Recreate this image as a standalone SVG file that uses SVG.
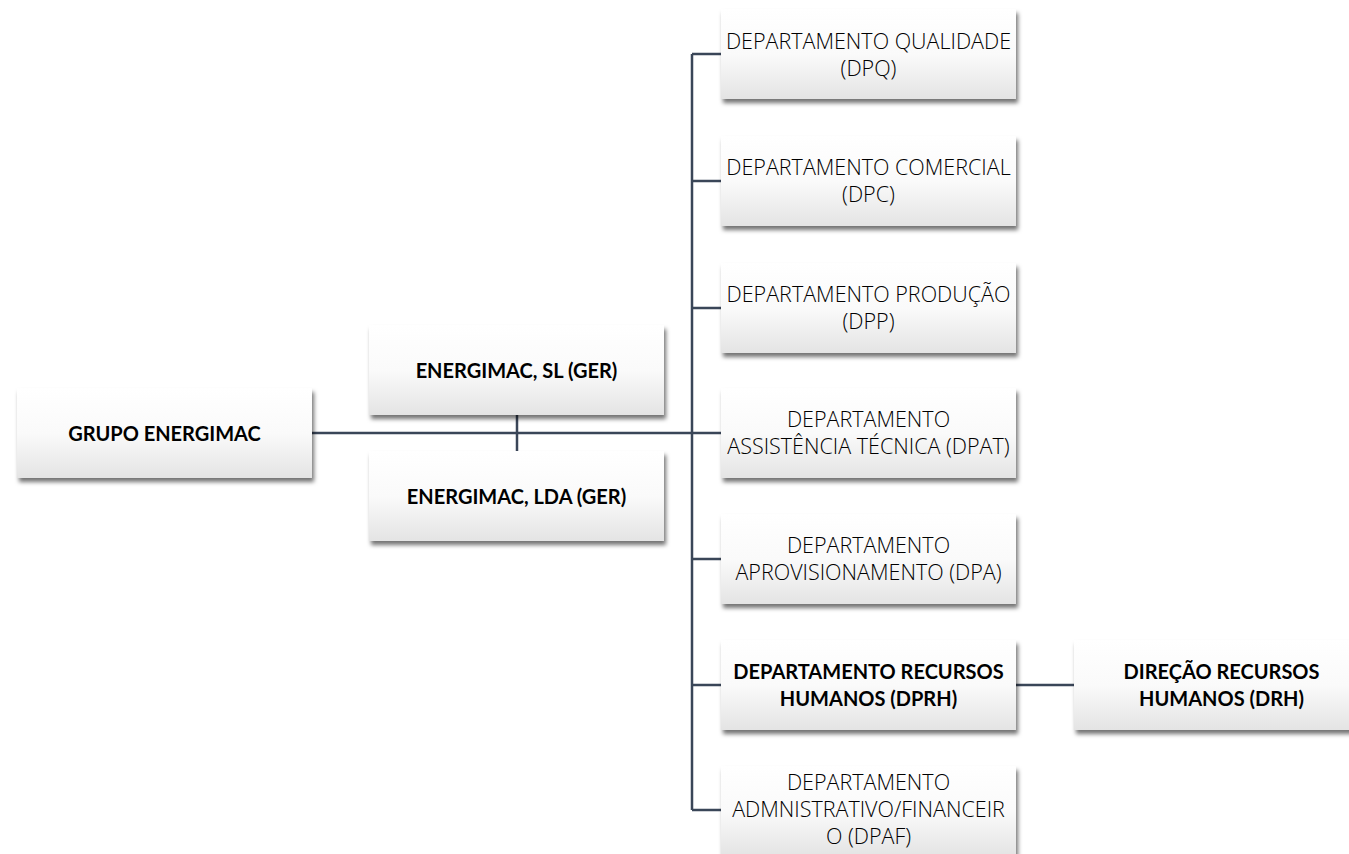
<svg xmlns="http://www.w3.org/2000/svg" width="1349" height="854" viewBox="0 0 1349 854">
<defs>
<linearGradient id="g" x1="0" y1="0" x2="0" y2="1">
<stop offset="0" stop-color="#ffffff"/>
<stop offset="0.5" stop-color="#fafafa"/>
<stop offset="1" stop-color="#e4e4e4"/>
</linearGradient>
<filter id="sh" x="-10%" y="-10%" width="125%" height="135%">
<feDropShadow dx="2" dy="4" stdDeviation="2.2" flood-color="#000" flood-opacity="0.55"/>
</filter>
</defs>
<style>
.box{fill:url(#g);filter:url(#sh)}
.t{font-family:"Open Sans","Noto Sans",sans-serif;font-weight:300;font-size:21.5px;fill:#000;text-anchor:middle}
.b{font-family:Lato,"Open Sans",sans-serif;font-weight:700;font-size:20px;fill:#000;text-anchor:middle}
.c{fill:none;stroke:#3a4658;stroke-width:2.5}
</style>
<rect width="1349" height="854" fill="#fff"/>
<g id="connectors">
<path class="c" d="M312 433 H721"/>
<path class="c" d="M517 415 V451"/>
<path class="c" d="M692 54 V810"/>
<path class="c" d="M692 54 H721 M692 181 H721 M692 308 H721 M692 559 H721 M692 685 H721 M692 810 H721"/>
<path class="c" d="M1016 685 H1074"/>
</g>
<g id="grupo"><rect class="box" x="17" y="388" width="295" height="90"/><text class="b" x="164.5" y="441">GRUPO ENERGIMAC</text></g>
<g id="sl"><rect class="box" x="369" y="325" width="295" height="90"/><text class="b" x="516.5" y="378">ENERGIMAC, SL (GER)</text></g>
<g id="lda"><rect class="box" x="369" y="451" width="295" height="90"/><text class="b" x="516.5" y="504">ENERGIMAC, LDA (GER)</text></g>
<g id="dpq"><rect class="box" x="721" y="9" width="295" height="90"/><text class="t" x="868.5" y="49">DEPARTAMENTO QUALIDADE</text><text class="t" x="868.5" y="76">(DPQ)</text></g>
<g id="dpc"><rect class="box" x="721" y="136" width="295" height="90"/><text class="t" x="868.5" y="175">DEPARTAMENTO COMERCIAL</text><text class="t" x="868.5" y="202">(DPC)</text></g>
<g id="dpp"><rect class="box" x="721" y="263" width="295" height="90"/><text class="t" x="868.5" y="302">DEPARTAMENTO PRODUÇÃO</text><text class="t" x="868.5" y="329">(DPP)</text></g>
<g id="dpat"><rect class="box" x="721" y="388" width="295" height="90"/><text class="t" x="868.5" y="427">DEPARTAMENTO</text><text class="t" x="868.5" y="454">ASSISTÊNCIA TÉCNICA (DPAT)</text></g>
<g id="dpa"><rect class="box" x="721" y="514" width="295" height="90"/><text class="t" x="868.5" y="553">DEPARTAMENTO</text><text class="t" x="868.5" y="580">APROVISIONAMENTO (DPA)</text></g>
<g id="dprh"><rect class="box" x="721" y="640" width="295" height="90"/><text class="b" x="868.5" y="679">DEPARTAMENTO RECURSOS</text><text class="b" x="868.5" y="706">HUMANOS (DPRH)</text></g>
<g id="drh"><rect class="box" x="1074" y="640" width="295" height="90"/><text class="b" x="1221.5" y="679">DIREÇÃO RECURSOS</text><text class="b" x="1221.5" y="706">HUMANOS (DRH)</text></g>
<g id="dpaf"><rect class="box" x="721" y="766" width="295" height="90"/><text class="t" x="868.5" y="790">DEPARTAMENTO</text><text class="t" x="868.5" y="817">ADMNISTRATIVO/FINANCEIR</text><text class="t" x="868.5" y="844">O (DPAF)</text></g>
</svg>
